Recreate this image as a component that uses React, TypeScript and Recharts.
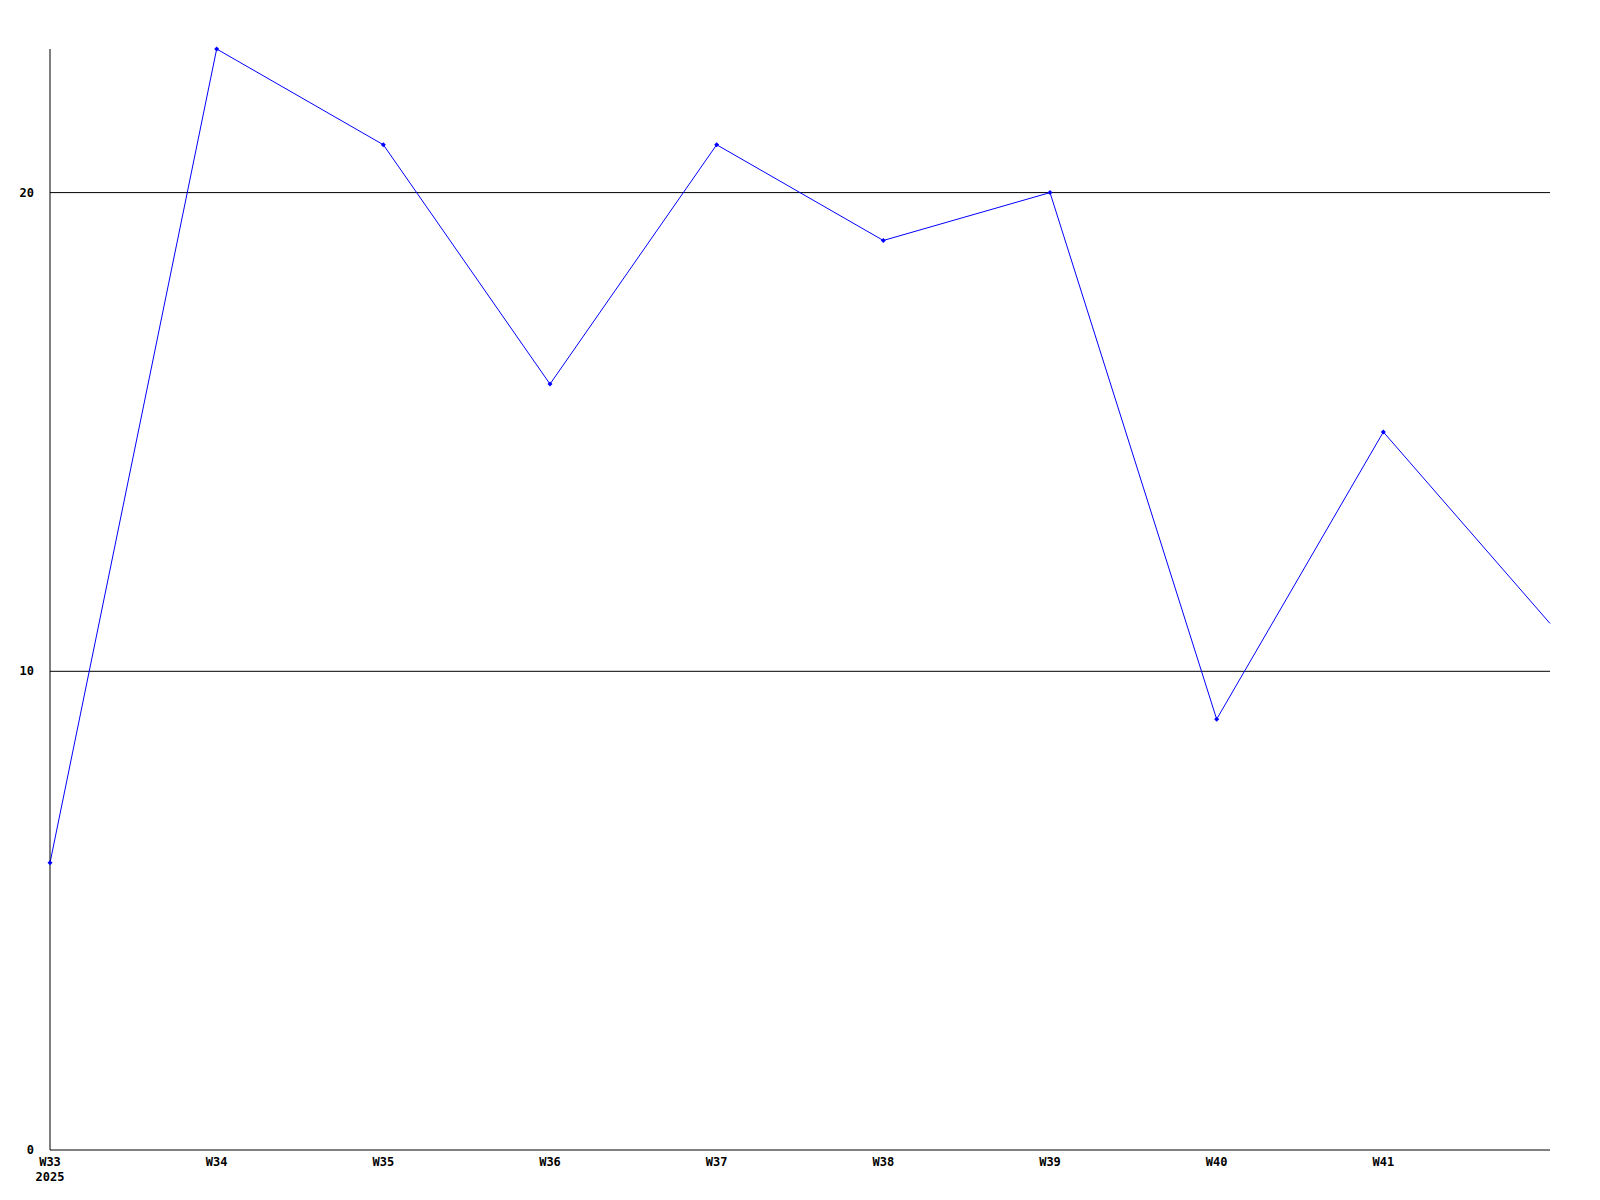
import { LineChart, Line, XAxis, YAxis, ReferenceLine } from 'recharts';

const weeks = ['W33', 'W34', 'W35', 'W36', 'W37', 'W38', 'W39', 'W40', 'W41', 'W42'];
const counts = [6, 23, 21, 16, 21, 19, 20, 9, 15, 11];
const yTicks = [0, 10, 20];
const gridValues = [10, 20];

const data = weeks.map((week, i) => ({ week, count: counts[i] }));

const FONT = '"DejaVu Sans Mono", monospace';

function WeekTick(props: any) {
    const { x, y, payload, index } = props;
    // last category sits on the right edge and has no label
    if (index === weeks.length - 1) return null;
    return (
        <g>
            <text x={x} y={y + 8} textAnchor="middle" fontFamily={FONT} fontSize={12} fontWeight="bold" fill="#000">
                {payload.value}
            </text>
            {index === 0 && (
                <text x={x} y={y + 23} textAnchor="middle" fontFamily={FONT} fontSize={12} fontWeight="bold" fill="#000">
                    2025
                </text>
            )}
        </g>
    );
}

function CountTick(props: any) {
    const { y, payload } = props;
    return (
        <text x={34} y={y + 4} textAnchor="end" fontFamily={FONT} fontSize={12} fontWeight="bold" fill="#000">
            {payload.value}
        </text>
    );
}

function Marker(props: any) {
    const { cx, cy, index } = props;
    if (index === weeks.length - 1) return <g key={index} />;
    return (
        <path
            key={index}
            d={`M${cx - 2.5},${cy} L${cx},${cy - 2.5} L${cx + 2.5},${cy} L${cx},${cy + 2.5} Z`}
            fill="#0000ff"
        />
    );
}

export default function App() {
    return (
        <div style={{ position: 'absolute', left: 0, top: 0, background: '#fff' }}>
            <LineChart width={1600} height={1200} data={data} margin={{ top: 49, right: 50, bottom: 0, left: 0 }}>
                <XAxis
                    dataKey="week"
                    height={50}
                    tickLine={false}
                    axisLine={{ stroke: '#000', strokeWidth: 1 }}
                    tick={<WeekTick />}
                    interval={0}
                />
                <YAxis
                    width={50}
                    domain={[0, 23]}
                    ticks={yTicks}
                    tickLine={false}
                    axisLine={{ stroke: '#000', strokeWidth: 1 }}
                    tick={<CountTick />}
                />
                {gridValues.map((v) => (
                    <ReferenceLine key={v} y={v} stroke="#000" strokeWidth={1} />
                ))}
                <Line
                    type="linear"
                    dataKey="count"
                    stroke="#0000ff"
                    strokeWidth={1}
                    dot={<Marker />}
                    activeDot={false}
                    isAnimationActive={false}
                />
            </LineChart>
        </div>
    );
}
